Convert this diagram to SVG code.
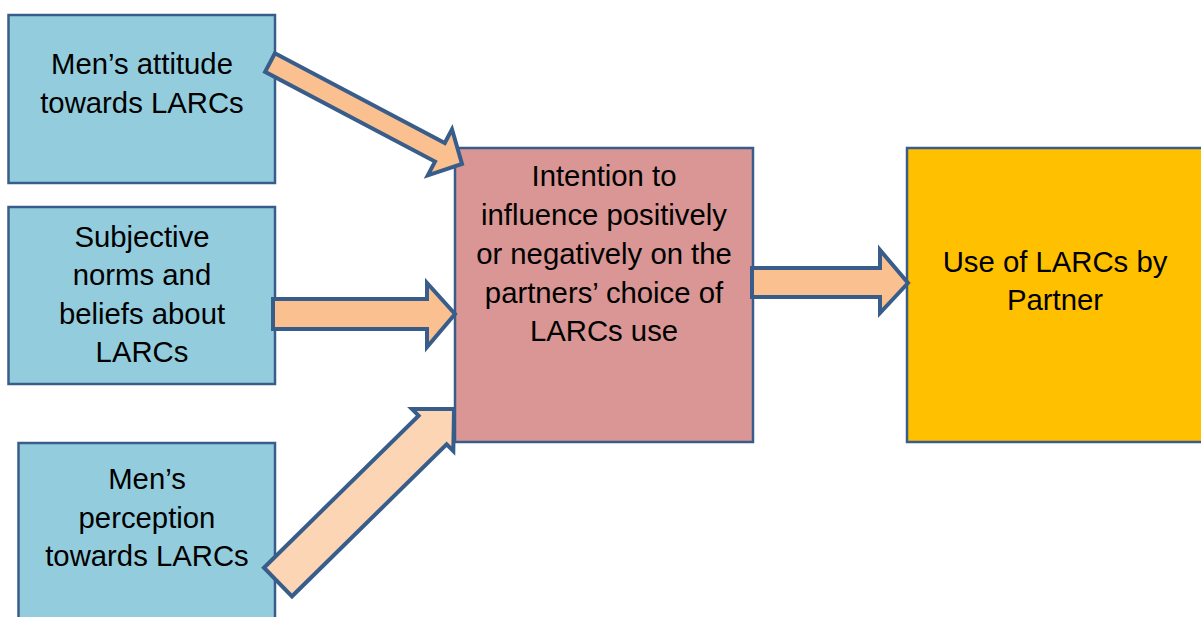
<svg xmlns="http://www.w3.org/2000/svg" width="1201" height="617" viewBox="0 0 1201 617">
<style>
.box{stroke:#385D8A;stroke-width:2.5}
.blue{fill:#93CDDD}
.pink{fill:#D99694}
.gold{fill:#FFC000}
.arr{stroke:#385D8A;stroke-width:4;stroke-linejoin:miter;stroke-miterlimit:10}
.a1{fill:#FAC090}
.a2{fill:#FCD5B5}
text{font-family:"Liberation Sans",Arial,sans-serif;font-size:29.3px;fill:#000;text-anchor:middle}
</style>
<rect width="1201" height="617" fill="#fff"/>
<g id="node-attitude">
<rect class="box blue" x="8.5" y="15" width="266.5" height="168"/>
<text x="142" y="74">Men’s attitude</text>
<text x="142" y="113">towards LARCs</text>
</g>
<g id="node-norms">
<rect class="box blue" x="8.5" y="207" width="266.5" height="177"/>
<text x="142" y="247">Subjective</text>
<text x="142" y="285">norms and</text>
<text x="142" y="324">beliefs about</text>
<text x="142" y="362">LARCs</text>
</g>
<g id="node-perception">
<rect class="box blue" x="18.5" y="443" width="256.5" height="200"/>
<text x="147" y="489">Men’s</text>
<text x="147" y="528">perception</text>
<text x="147" y="566">towards LARCs</text>
</g>
<g id="node-intention">
<rect class="box pink" x="455" y="148" width="298" height="294"/>
<text x="604" y="186">Intention to</text>
<text x="604" y="225">influence positively</text>
<text x="604" y="264">or negatively on the</text>
<text x="604" y="303">partners’ choice of</text>
<text x="604" y="341">LARCs use</text>
</g>
<g id="node-use">
<rect class="box gold" x="907" y="148" width="310" height="294"/>
<text x="1055" y="272">Use of LARCs by</text>
<text x="1055" y="310">Partner</text>
</g>
<g id="connectors">
<polygon class="arr a1" points="274.9,53.2 444.8,143 452,129.3 462,164 427.8,175.3 435,161.6 265.1,71.8"/>
<polygon class="arr a1" points="273,299 427,299 427,283 455,314 427,347 427,329 273,329"/>
<polygon class="arr a2" points="264,567.7 418.6,415.7 411.9,409 454,409 453.3,451 446.6,444.3 292,596.3"/>
<polygon class="arr a1" points="752,268 880,268 880,250 908,283 880,313 880,297 752,297"/>
</g>
</svg>
